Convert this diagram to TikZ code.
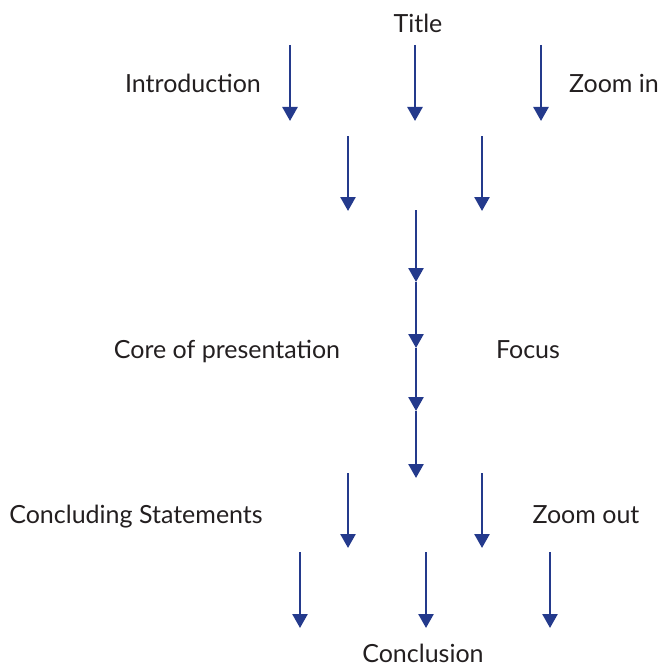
\documentclass[tikz,border=0pt]{standalone}
\usepackage{fontspec}
\setmainfont{Lato}
\usetikzlibrary{arrows.meta}
\definecolor{arr}{RGB}{36,58,140}
\definecolor{txt}{RGB}{35,31,32}
\tikzset{
  lbl/.style={text=txt, font=\fontsize{25}{28}\selectfont, inner sep=0pt, anchor=base},
  darr/.style={draw=arr, line width=2.6pt, -{Triangle[width=15pt,length=14pt]}}
}
\begin{document}
\begin{tikzpicture}[x=1pt,y=-1pt]
\useasboundingbox (0,0) rectangle (662,666);
% labels
\node[lbl] (title) at (418,33) {Title};
\node[lbl] (intro) at (193,93) {Introduction};
\node[lbl] (zin) at (614,93) {Zoom in};
\node[lbl] (core) at (227,358) {Core of presentation};
\node[lbl] (focus) at (528,358) {Focus};
\node[lbl] (concl) at (136,523) {Concluding Statements};
\node[lbl] (zout) at (586,523) {Zoom out};
\node[lbl] (conc) at (423,662) {Conclusion};
% coordinates
\coordinate (a1s) at (290,45); \coordinate (a1e) at (290,121);
\coordinate (a2s) at (415,45); \coordinate (a2e) at (415,121);
\coordinate (a3s) at (541,45); \coordinate (a3e) at (541,121);
\coordinate (b1s) at (348,136); \coordinate (b1e) at (348,211);
\coordinate (b2s) at (482,136); \coordinate (b2e) at (482,211);
\coordinate (c0) at (416,210);
\coordinate (c1) at (416,282);
\coordinate (c2) at (416,348);
\coordinate (c3) at (416,411);
\coordinate (c4) at (416,478);
\coordinate (d1s) at (348,473); \coordinate (d1e) at (348,548);
\coordinate (d2s) at (482,473); \coordinate (d2e) at (482,548);
\coordinate (e1s) at (300,552); \coordinate (e1e) at (300,628);
\coordinate (e2s) at (426,552); \coordinate (e2e) at (426,628);
\coordinate (e3s) at (550,552); \coordinate (e3e) at (550,628);
% arrows
\draw[darr] (a1s) -- (a1e);
\draw[darr] (a2s) -- (a2e);
\draw[darr] (a3s) -- (a3e);
\draw[darr] (b1s) -- (b1e);
\draw[darr] (b2s) -- (b2e);
\draw[darr] (c0) -- (c1);
\draw[darr] (c1) -- (c2);
\draw[darr] (c2) -- (c3);
\draw[darr] (c3) -- (c4);
\draw[darr] (d1s) -- (d1e);
\draw[darr] (d2s) -- (d2e);
\draw[darr] (e1s) -- (e1e);
\draw[darr] (e2s) -- (e2e);
\draw[darr] (e3s) -- (e3e);
\end{tikzpicture}
\end{document}
